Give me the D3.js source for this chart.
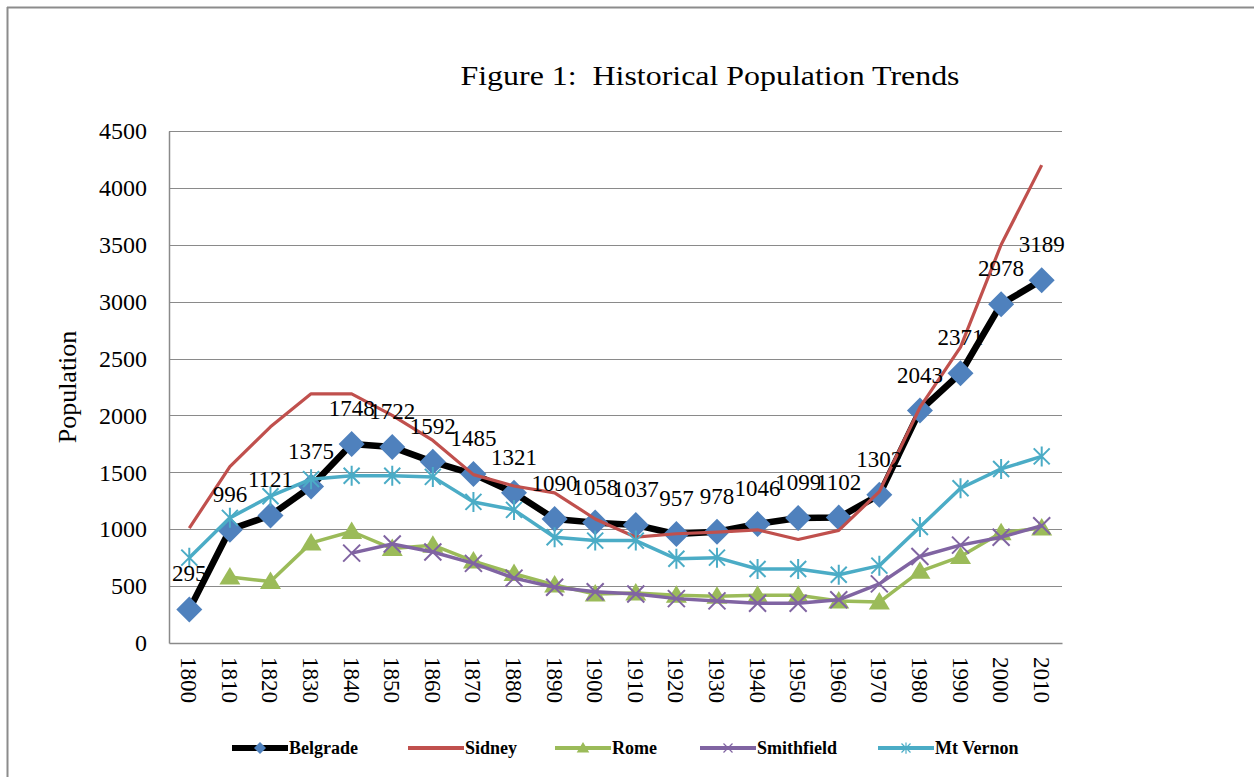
<!DOCTYPE html>
<html><head><meta charset="utf-8">
<script src="https://cdn.jsdelivr.net/npm/d3@7"></script>
<style>body{margin:0;background:#fff}svg{display:block}</style>
</head><body>
<svg id="c" width="1254" height="777"></svg>
<script>
const years = ["1800","1810","1820","1830","1840","1850","1860","1870","1880","1890","1900","1910","1920","1930","1940","1950","1960","1970","1980","1990","2000","2010"];
const belgrade = [295,996,1121,1375,1748,1722,1592,1485,1321,1090,1058,1037,957,978,1046,1099,1102,1302,2043,2371,2978,3189];
const sidney = [1010,1550,1900,2190,2190,2000,1780,1480,1380,1320,1090,930,960,975,995,910,990,1330,2070,2600,3500,4200];
const rome = [null,580,540,880,980,830,860,720,610,510,430,440,420,410,420,420,370,360,630,760,970,1010];
const smithfield = [null,null,null,null,790,870,800,700,570,490,450,430,390,370,350,350,380,520,760,860,930,1030];
const mtVernon = [750,1100,1290,1440,1470,1470,1460,1240,1170,930,900,900,740,750,650,650,600,680,1020,1360,1530,1640];
const yTicks = [0,500,1000,1500,2000,2500,3000,3500,4000,4500];
const seriesNames = ["Belgrade","Sidney","Rome","Smithfield","Mt Vernon"];

const svg = d3.select("#c");
const serif = "'Liberation Serif','Times New Roman',serif";
const L = 169, R = 1062, T = 131, B = 643;
const x = d3.scaleBand().domain(years).range([L, R]).padding(0);
const cx = d => x(d) + x.bandwidth()/2;
const y = d3.scaleLinear().domain([0,4500]).range([B, T]);

// outer frame
svg.append("line").attr("x1",7).attr("y1",7.5).attr("x2",1254).attr("y2",7.5).attr("stroke","#8c8c8c").attr("stroke-width",2);
svg.append("line").attr("x1",7.5).attr("y1",7).attr("x2",7.5).attr("y2",777).attr("stroke","#8c8c8c").attr("stroke-width",2);

// title
svg.append("text").attr("transform","translate(710,85) scale(1.14,1)").attr("text-anchor","middle")
  .attr("font-family",serif).attr("font-size",28).attr("fill","#000")
  .attr("xml:space","preserve").text("Figure 1:  Historical Population Trends");

// gridlines
svg.append("g").selectAll("line").data(yTicks.filter(v=>v>0)).join("line")
  .attr("x1",L).attr("x2",R).attr("y1",d=>Math.round(y(d))+0.5).attr("y2",d=>Math.round(y(d))+0.5)
  .attr("stroke","#8a8a8a").attr("stroke-width",1.2);

// y axis
const ya = svg.append("g").attr("transform",`translate(${L},0)`)
  .call(d3.axisLeft(y).tickValues(yTicks).tickFormat(d3.format("d")).tickSize(0).tickPadding(22));
ya.select(".domain").attr("stroke","#8a8a8a").attr("stroke-width",1.5);
ya.selectAll("text").attr("font-family",serif).attr("font-size",24).attr("fill","#000");

// x axis
const xa = svg.append("g").attr("transform",`translate(0,${B})`)
  .call(d3.axisBottom(x).tickSize(0).tickPadding(0));
xa.select(".domain").attr("stroke","#8a8a8a").attr("stroke-width",1.5);
xa.selectAll("text").attr("font-family",serif).attr("font-size",23).attr("fill","#000")
  .attr("text-anchor","start").attr("dy",null)
  .attr("transform","translate(-8,14) rotate(90)").attr("x",0).attr("y",0);

// y title
svg.append("text").attr("transform","translate(76,387) rotate(-90)").attr("text-anchor","middle")
  .attr("font-family",serif).attr("font-size",26).attr("fill","#000").text("Population");

const line = d3.line().defined(d=>d.v!=null).x(d=>cx(d.k)).y(d=>y(d.v));
const pts = arr => arr.map((v,i)=>({k:years[i],v}));

const diamond = r => `M0,${-r}L${r},0L0,${r}L${-r},0Z`;
const tri = r => `M0,${-r}L${r*1.05},${r*0.75}L${-r*1.05},${r*0.75}Z`;
const xmark = r => `M${-r},${-r}L${r},${r}M${-r},${r}L${r},${-r}`;
const star = r => `M${-r},${-r}L${r},${r}M${-r},${r}L${r},${-r}M0,${-r*1.25}L0,${r*1.25}`;

function drawSeries(arr, color, width, marker, mfill, mstroke, msw) {
  const g = svg.append("g");
  g.append("path").attr("d", line(pts(arr))).attr("fill","none").attr("stroke",color)
    .attr("stroke-width",width).attr("stroke-linejoin","round");
  if (marker) {
    g.selectAll("path.m").data(pts(arr).filter(d=>d.v!=null)).join("path").attr("class","m")
      .attr("transform",d=>`translate(${cx(d.k)},${y(d.v)})`).attr("d",marker)
      .attr("fill",mfill).attr("stroke",mstroke).attr("stroke-width",msw);
  }
}
drawSeries(belgrade,"#000",6.5,diamond(13),"#4F81BD","none",0);
drawSeries(sidney,"#C0504D",3.2,null);
drawSeries(rome,"#9BBB59",3.5,tri(10),"#9BBB59","none",0);
drawSeries(smithfield,"#8064A2",3.5,xmark(8.5),"none","#8064A2",2);
drawSeries(mtVernon,"#4BACC6",3.5,star(8),"none","#4BACC6",2);

// data labels
svg.append("g").selectAll("text").data(pts(belgrade)).join("text")
  .attr("x",d=>cx(d.k)).attr("y",d=>y(d.v)-28).attr("text-anchor","middle")
  .attr("font-family",serif).attr("font-size",23).attr("fill","#000").text(d=>d.v);

// legend
const legendColors = ["#000","#C0504D","#9BBB59","#8064A2","#4BACC6"];
const legendX = [232,408,555,700,878];
const lg = svg.append("g");
seriesNames.forEach((n,i)=>{
  const x0 = legendX[i], yy = 748;
  lg.append("line").attr("x1",x0).attr("x2",x0+56).attr("y1",yy).attr("y2",yy)
    .attr("stroke",legendColors[i]).attr("stroke-width",i===0?6:4);
  const mk = [diamond(6),null,tri(6),xmark(4.5),star(4.5)][i];
  if (mk) lg.append("path").attr("transform",`translate(${x0+28},${yy})`).attr("d",mk)
    .attr("fill",i===0?"#4F81BD":(i===2?"#9BBB59":"none"))
    .attr("stroke",i>=3?legendColors[i]:"none").attr("stroke-width",1.2);
  lg.append("text").attr("x",x0+57).attr("y",yy+6).attr("font-family",serif)
    .attr("font-size",18).attr("font-weight","bold").attr("fill","#000").text(n);
});
</script>
</body></html>
